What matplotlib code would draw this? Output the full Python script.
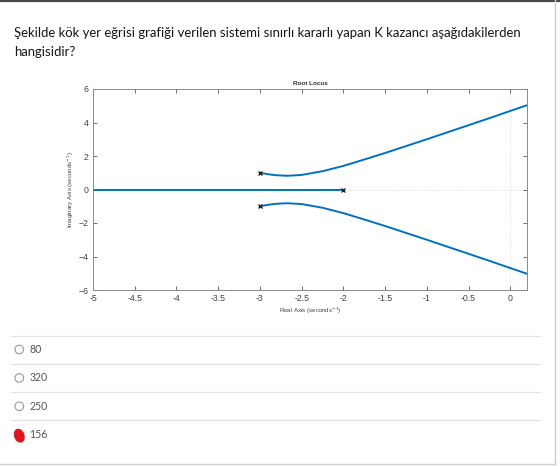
import matplotlib
matplotlib.use("Agg")
import matplotlib.pyplot as plt
from matplotlib.patches import Circle, Ellipse

# question text and answer choices
question_lines = ["Şekilde kök yer eğrisi grafiği verilen sistemi sınırlı kararlı yapan K kazancı aşağıdakilerden",
                  "hangisidir?"]
choices = ["80", "320", "250", "156"]
selected = "156"

# open-loop poles (x marks)
pole_re = [-3.0, -3.0, -2.0]
pole_im = [1.0, -1.0, 0.0]

# upper complex branch
upper_re = [-3.0, -2.9, -2.8, -2.67, -2.5, -2.25, -2.0, -1.75, -1.5, -1.25, -1.0, -0.75, -0.5, -0.25, 0.0, 0.2]
upper_im = [1.0, 0.91, 0.85, 0.82, 0.87, 1.09, 1.41, 1.79, 2.18, 2.59, 3.0, 3.42, 3.84, 4.26, 4.69, 5.03]
# lower branch is the conjugate
lower_re = upper_re
lower_im = [-v for v in upper_im]
# real-axis branch
real_re = [-2.0, -5.0]
real_im = [0.0, 0.0]

W, H = 560, 466
fig = plt.figure(figsize=(W / 100, H / 100), dpi=100)
fig.patch.set_facecolor("white")

# full-figure overlay in pixel units
bg = fig.add_axes([0, 0, 1, 1])
bg.set_xlim(0, W)
bg.set_ylim(H, 0)
bg.axis("off")

# card borders
bg.plot([0, W], [0.8, 0.8], color="#4a4a4a", lw=1.6)
bg.plot([554.5, 554.5], [0, 463.5], color="#cfcfcf", lw=1.0)
bg.plot([0, 554.5], [463.5, 463.5], color="#cfcfcf", lw=1.0)

# question
qtxt = []
for i, line in enumerate(question_lines):
    t = bg.text(14, 33 + i * 19, line, fontsize=9.5, family="Lato", color="#151515",
                va="center", ha="left")
    qtxt.append(t)
fig.canvas.draw()
r = fig.canvas.get_renderer()
w = qtxt[0].get_window_extent(r).width
scale = 510.0 / w
for t in qtxt:
    t.set_fontsize(9.5 * scale)

# answer choices
sep_y = [335.5, 363.5, 391.5, 420]
for y in sep_y:
    bg.plot([11, 540], [y, y], color="#e3e3e3", lw=0.9)
for i, c in enumerate(choices):
    yc = 349.5 + i * 28.4
    if c == selected:
        bg.add_patch(Ellipse((19.3, yc + 1), 9, 13, angle=-20, color="#e3141b"))
    else:
        bg.add_patch(Circle((19.3, yc), 4.3, fc="white", ec="#9a9a9a", lw=0.8))
    bg.text(29.5, yc, c, fontsize=7.6, family="Lato", color="#555555", va="center", ha="left")

# root locus axes
ax = fig.add_axes([93 / W, 1 - 290 / H, (527 - 93) / W, (290 - 89) / H])
blue = "#0072BD"
ax.axhline(0, color="#c8c8c8", lw=0.5, ls=":", zorder=1)
ax.axvline(0, color="#c8c8c8", lw=0.5, ls=":", zorder=1)
ax.plot(upper_re, upper_im, color=blue, lw=1.4, zorder=2)
ax.plot(lower_re, lower_im, color=blue, lw=1.4, zorder=2)
ax.plot(real_re, real_im, color=blue, lw=1.4, zorder=2)
ax.plot(pole_re, pole_im, ls="none", marker="x", color="#222222", ms=3.5, mew=1.0, zorder=3)

ax.set_xlim(-5, 0.2)
ax.set_ylim(-6, 6)
ax.set_xticks([-5, -4.5, -4, -3.5, -3, -2.5, -2, -1.5, -1, -0.5, 0])
ax.set_xticklabels(["-5", "-4.5", "-4", "-3.5", "-3", "-2.5", "-2", "-1.5", "-1", "-0.5", "0"])
ax.set_yticks([-6, -4, -2, 0, 2, 4, 6])
ax.tick_params(direction="in", top=True, right=True, length=3, width=0.6,
               labelsize=6.3, colors="#555555", labelcolor="#404040", pad=3)
for s in ax.spines.values():
    s.set_color("#8a8a8a")
    s.set_linewidth(0.7)
for lab in ax.get_xticklabels() + ax.get_yticklabels():
    lab.set_family("Liberation Sans")

ax.set_title("Root Locus", fontsize=4.6, fontweight="bold", family="Liberation Sans",
             color="#333333", pad=3)
ax.set_xlabel("Real Axis (seconds$^{-1}$)", fontsize=4.4, family="Liberation Sans",
              color="#444444", labelpad=2)
ax.set_ylabel("Imaginary Axis (seconds$^{-1}$)", fontsize=4.4, family="Liberation Sans",
              color="#444444", labelpad=2)

fig.savefig("out.png", dpi=100, facecolor="white")
